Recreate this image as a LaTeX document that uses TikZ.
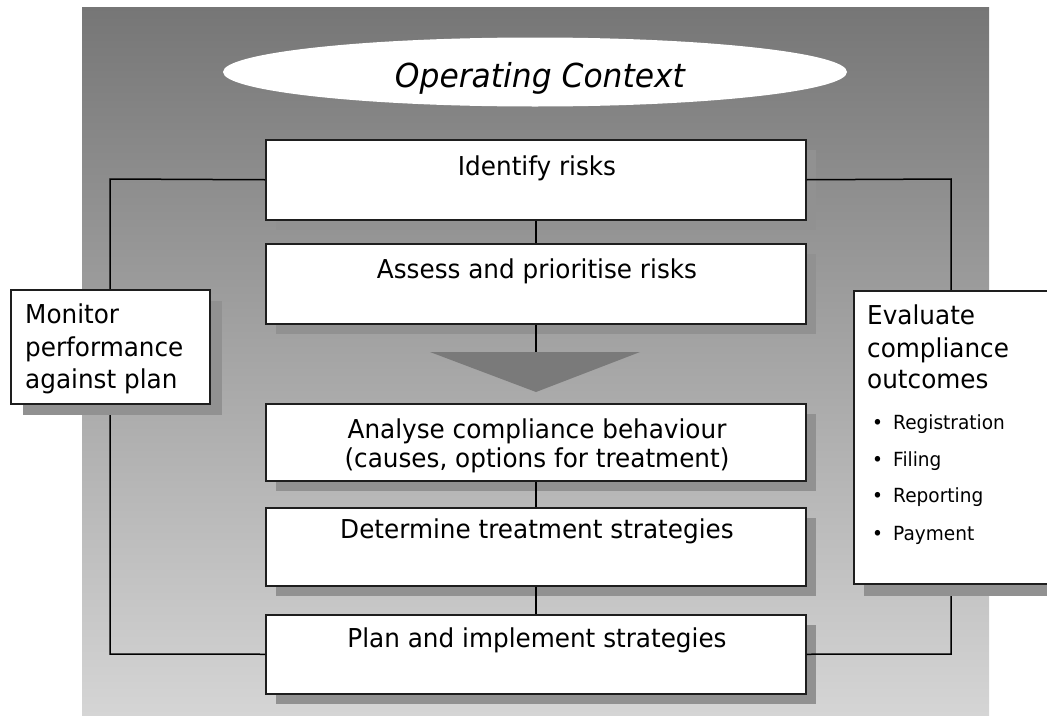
\documentclass[tikz,border=0pt]{standalone}
\usepackage{fontspec}
\setmainfont[FakeStretch=0.95]{DejaVu Sans}
\usetikzlibrary{shapes.geometric,shadows}
\definecolor{bgtop}{RGB}{118,118,118}
\definecolor{bgbot}{RGB}{213,213,213}
\definecolor{shad}{RGB}{145,145,145}
\definecolor{trigray}{RGB}{122,122,122}
\definecolor{boxline}{RGB}{30,30,30}
\begin{document}
\begin{tikzpicture}[x=1pt,y=-1pt,
  stepbox/.style={draw=boxline, line width=1.5pt, fill=white, minimum width=540pt, inner sep=0pt, anchor=north west,
    drop shadow={shadow xshift=10pt,shadow yshift=-10pt,fill=shad,opacity=1}},
  sidebox/.style={draw=boxline, line width=1.5pt, fill=white, inner sep=0pt, anchor=north west,
    drop shadow={shadow xshift=12pt,shadow yshift=-11pt,fill=shad,opacity=1}},
  maintxt/.style={font=\fontsize{26}{30}\selectfont, inner sep=0pt, anchor=base},
  sidetxt/.style={font=\fontsize{26}{30}\selectfont, inner sep=0pt, anchor=base west},
  bultxt/.style={font=\fontsize{19.5}{23}\selectfont, inner sep=0pt, anchor=base west},
  conn/.style={draw=black, line width=1.5pt}]
\useasboundingbox (0,0) rectangle (1047,715);
% background
\shade[top color=bgtop, bottom color=bgbot] (82,7) rectangle (989,715);
% context ellipse
\node[ellipse, fill=white, minimum width=624pt, minimum height=69pt, inner sep=0pt] (ctx) at (535,72) {};
\node[font=\fontsize{33}{39}\selectfont\itshape, inner sep=0pt, anchor=base] (ctxt) at (540,87) {Operating Context};
% main boxes
\node[stepbox, minimum height=80pt] (b1) at (265,139) {};
\node[stepbox, minimum height=80pt] (b2) at (265,243) {};
\node[stepbox, minimum height=77pt] (b3) at (265,403) {};
\node[stepbox, minimum height=78pt] (b4) at (265,507) {};
\node[stepbox, minimum height=79pt] (b5) at (265,614) {};
\node[maintxt] (t1) at (537,175) {Identify risks};
\node[maintxt] (t2) at (537,278) {Assess and prioritise risks};
\node[maintxt] (t3a) at (537,438) {Analyse compliance behaviour};
\node[maintxt] (t3b) at (537,467) {(causes, options for treatment)};
\node[maintxt] (t4) at (537,538) {Determine treatment strategies};
\node[maintxt] (t5) at (537,647) {Plan and implement strategies};
% arrow triangle
\coordinate (tritop) at (537,352);
\fill[trigray] (430,352) -- (640,352) -- (536,392) -- cycle;
% connectors
\draw[conn] (b1.south) -- (b2.north);
\draw[conn] (b2.south) -- (b2.south |- tritop);
\draw[conn] (b3.south) -- (b4.north);
\draw[conn] (b4.south) -- (b5.north);
\draw[conn] (b1.west) -- (110,179) -- (110,654) -- (b5.west);
\draw[conn] (b1.east) -- (951,179) -- (951,654) -- (b5.east);
% side boxes
\node[sidebox, minimum width=199pt, minimum height=114pt] (mon) at (10,289) {};
\node[sidetxt] (m1) at (25,323) {Monitor};
\node[sidetxt] (m2) at (25,356) {performance};
\node[sidetxt] (m3) at (25,388) {against plan};
\node[sidebox, minimum width=215pt, minimum height=293pt, drop shadow={shadow xshift=10pt,shadow yshift=-12pt,fill=shad,opacity=1}] (eva) at (853,290) {};
\node[sidetxt] (e1) at (867,324) {Evaluate};
\node[sidetxt] (e2) at (867,357) {compliance};
\node[sidetxt] (e3) at (867,388) {outcomes};
\node[bultxt] (r1) at (893,429) {\llap{\makebox[21pt][l]{•}}Registration};
\node[bultxt] (r2) at (893,466) {\llap{\makebox[21pt][l]{•}}Filing};
\node[bultxt] (r3) at (893,502) {\llap{\makebox[21pt][l]{•}}Reporting};
\node[bultxt] (r4) at (893,540) {\llap{\makebox[21pt][l]{•}}Payment};
\end{tikzpicture}
\end{document}
